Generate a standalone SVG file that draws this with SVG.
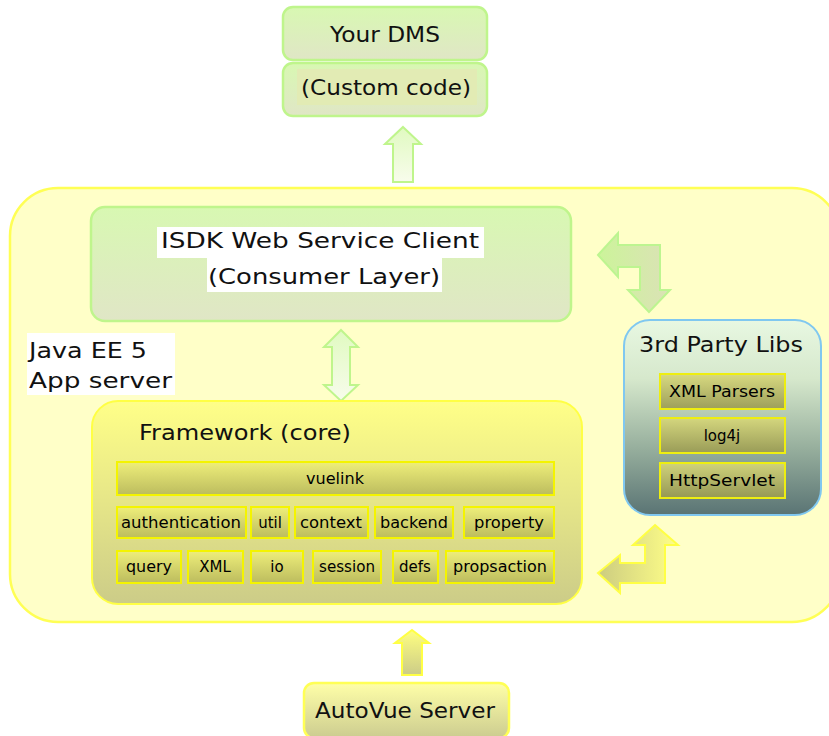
<svg xmlns="http://www.w3.org/2000/svg" width="829" height="736" viewBox="0 0 829 736">
<defs>
<linearGradient id="gGreen" x1="0" y1="0" x2="0" y2="1"><stop offset="0" stop-color="#d8f8b2"/><stop offset="1" stop-color="#e0e6c6"/></linearGradient>
<linearGradient id="gFw" x1="0" y1="0" x2="0" y2="1"><stop offset="0" stop-color="#ffff88"/><stop offset="1" stop-color="#cccc88"/></linearGradient>
<linearGradient id="gSmall" x1="0" y1="0" x2="0" y2="1"><stop offset="0" stop-color="#eeee7a"/><stop offset="1" stop-color="#bcbc5e"/></linearGradient>
<linearGradient id="gLib" x1="0" y1="0" x2="0" y2="1"><stop offset="0" stop-color="#e8f8e2"/><stop offset="0.3" stop-color="#d6e8cc"/><stop offset="0.65" stop-color="#98b09e"/><stop offset="1" stop-color="#5a7474"/></linearGradient>
<linearGradient id="gLibBox" x1="0" y1="0" x2="0" y2="1"><stop offset="0" stop-color="#d8d878" stop-opacity="0.9"/><stop offset="1" stop-color="#9a9a50" stop-opacity="0.9"/></linearGradient>
<linearGradient id="gAutoVue" x1="0" y1="0" x2="0" y2="1"><stop offset="0" stop-color="#ffffa8"/><stop offset="1" stop-color="#cccc90"/></linearGradient>
<linearGradient id="gArrGreenV" x1="0" y1="0" x2="0" y2="1"><stop offset="0" stop-color="#e0fac0"/><stop offset="1" stop-color="#f8fcec"/></linearGradient>
<linearGradient id="gArrGreenH" x1="0" y1="0" x2="1" y2="0"><stop offset="0" stop-color="#ccf49a"/><stop offset="1" stop-color="#dbe2b6"/></linearGradient>
<linearGradient id="gArrYellowV" x1="0" y1="0" x2="0" y2="1"><stop offset="0" stop-color="#ffff80"/><stop offset="1" stop-color="#cccc88"/></linearGradient>
<linearGradient id="gArrYellowB" x1="0" y1="0" x2="1" y2="0"><stop offset="0" stop-color="#cccc80"/><stop offset="1" stop-color="#ffff88"/></linearGradient>
</defs>
<style>
text{font-family:"DejaVu Sans","Liberation Sans",sans-serif;fill:#111;}
.big{font-size:21px;}
.sm{font-size:15px;text-anchor:middle;fill:#000;}
.small{fill:url(#gSmall);stroke:#f4f400;stroke-width:2;}
.lib{fill:url(#gLibBox);stroke:#eeee10;stroke-width:2;}
.green{fill:url(#gGreen);stroke:#bff58c;stroke-width:2.5;}
</style>

<g id="app-server">
<rect x="10" y="188" width="830" height="434" rx="48" ry="48" fill="#ffffc8" stroke="#ffff55" stroke-width="2.5"/>
<rect x="27" y="333" width="148" height="62" fill="#ffffff"/>
<text class="big" x="29" y="358" textLength="118" lengthAdjust="spacingAndGlyphs">Java EE 5</text>
<text class="big" x="29" y="388" textLength="143" lengthAdjust="spacingAndGlyphs">App server</text>
</g>

<g id="connectors">
<path d="M403,127 L421,144 L413,144 L413,182 L393,182 L393,144 L385,144 Z" fill="url(#gArrGreenV)" stroke="#bff58c" stroke-width="2"/>
<path d="M341,330 L358,347 L350,347 L350,385 L358,385 L341,401 L324,385 L332,385 L332,347 L324,347 Z" fill="url(#gArrGreenV)" stroke="#bff58c" stroke-width="2"/>
<path d="M598,255 L618,233 L618,245 L660,245 L660,290 L670,290 L649,312 L628,290 L640,290 L640,267 L618,267 L618,277 Z" fill="url(#gArrGreenH)" stroke="#bdf590" stroke-width="2"/>
<path d="M655,525 L678,545 L665,545 L665,583 L620,583 L620,593 L598,573 L620,555 L620,563 L645,563 L645,545 L633,545 Z" fill="url(#gArrYellowB)" stroke="#ffff44" stroke-width="2"/>
<path d="M412,630 L429,643 L422,643 L422,675 L402,675 L402,643 L395,643 Z" fill="url(#gArrYellowV)" stroke="#ffff44" stroke-width="2"/>
</g>

<g id="your-dms">
<rect class="green" x="283" y="7" width="204" height="53" rx="10"/>
<text class="big" x="385" y="42" text-anchor="middle" textLength="110" lengthAdjust="spacingAndGlyphs">Your DMS</text>
</g>

<g id="custom-code">
<rect class="green" x="283" y="63" width="204" height="53" rx="10"/>
<rect x="297" y="69" width="180" height="36" fill="#e2ebb4"/>
<text class="big" x="386" y="95" text-anchor="middle" textLength="170" lengthAdjust="spacingAndGlyphs">(Custom code)</text>
</g>

<g id="isdk-client">
<rect class="green" x="91" y="207" width="480" height="114" rx="14"/>
<rect x="157" y="227" width="327" height="31" fill="#ffffff"/>
<rect x="207" y="258" width="235" height="34" fill="#ffffff"/>
<text class="big" x="320" y="248" text-anchor="middle" textLength="318" lengthAdjust="spacingAndGlyphs">ISDK Web Service Client</text>
<text class="big" x="324" y="284" text-anchor="middle" textLength="232" lengthAdjust="spacingAndGlyphs">(Consumer Layer)</text>
</g>

<g id="framework">
<rect x="92" y="401" width="490" height="203" rx="26" fill="url(#gFw)" stroke="#ffff44" stroke-width="2"/>
<text class="big" x="139" y="440" textLength="212" lengthAdjust="spacingAndGlyphs">Framework (core)</text>
<g id="vuelink"><rect class="small" x="117" y="462" width="437" height="33"/><text class="sm" x="335" y="484" textLength="58" lengthAdjust="spacingAndGlyphs">vuelink</text></g>
<g id="authentication"><rect class="small" x="117" y="507" width="129" height="31"/><text class="sm" x="181" y="528" textLength="120" lengthAdjust="spacingAndGlyphs">authentication</text></g>
<g id="util"><rect class="small" x="251" y="507" width="38" height="31"/><text class="sm" x="270" y="528">util</text></g>
<g id="context"><rect class="small" x="295" y="507" width="73" height="31"/><text class="sm" x="331" y="528" textLength="62" lengthAdjust="spacingAndGlyphs">context</text></g>
<g id="backend"><rect class="small" x="375" y="507" width="78" height="31"/><text class="sm" x="414" y="528" textLength="68" lengthAdjust="spacingAndGlyphs">backend</text></g>
<g id="property"><rect class="small" x="464" y="507" width="90" height="31"/><text class="sm" x="509" y="528" textLength="70" lengthAdjust="spacingAndGlyphs">property</text></g>
<g id="query"><rect class="small" x="117" y="551" width="64" height="32"/><text class="sm" x="149" y="572" textLength="46" lengthAdjust="spacingAndGlyphs">query</text></g>
<g id="xml"><rect class="small" x="188" y="551" width="55" height="32"/><text class="sm" x="215" y="572">XML</text></g>
<g id="io"><rect class="small" x="251" y="551" width="52" height="32"/><text class="sm" x="277" y="572">io</text></g>
<g id="session"><rect class="small" x="313" y="551" width="68" height="32"/><text class="sm" x="347" y="572" textLength="56" lengthAdjust="spacingAndGlyphs">session</text></g>
<g id="defs"><rect class="small" x="393" y="551" width="45" height="32"/><text class="sm" x="415" y="572">defs</text></g>
<g id="propsaction"><rect class="small" x="446" y="551" width="108" height="32"/><text class="sm" x="500" y="572" textLength="94" lengthAdjust="spacingAndGlyphs">propsaction</text></g>
</g>

<g id="third-party-libs">
<rect x="624" y="320" width="197" height="195" rx="26" fill="url(#gLib)" stroke="#80c8f0" stroke-width="2"/>
<text class="big" x="721" y="352" text-anchor="middle" textLength="164" lengthAdjust="spacingAndGlyphs">3rd Party Libs</text>
<g id="xml-parsers"><rect class="lib" x="660" y="374" width="125" height="35"/><text class="sm" x="722" y="397" textLength="106" lengthAdjust="spacingAndGlyphs">XML Parsers</text></g>
<g id="log4j"><rect class="lib" x="660" y="418" width="125" height="35"/><text class="sm" x="722" y="441">log4j</text></g>
<g id="httpservlet"><rect class="lib" x="660" y="463" width="125" height="35"/><text class="sm" x="722" y="486" textLength="106" lengthAdjust="spacingAndGlyphs">HttpServlet</text></g>
</g>

<g id="autovue-server">
<rect x="304" y="683" width="205" height="55" rx="10" fill="url(#gAutoVue)" stroke="#ffff55" stroke-width="2.5"/>
<text class="big" x="405" y="718" text-anchor="middle" textLength="180" lengthAdjust="spacingAndGlyphs">AutoVue Server</text>
</g>
</svg>
